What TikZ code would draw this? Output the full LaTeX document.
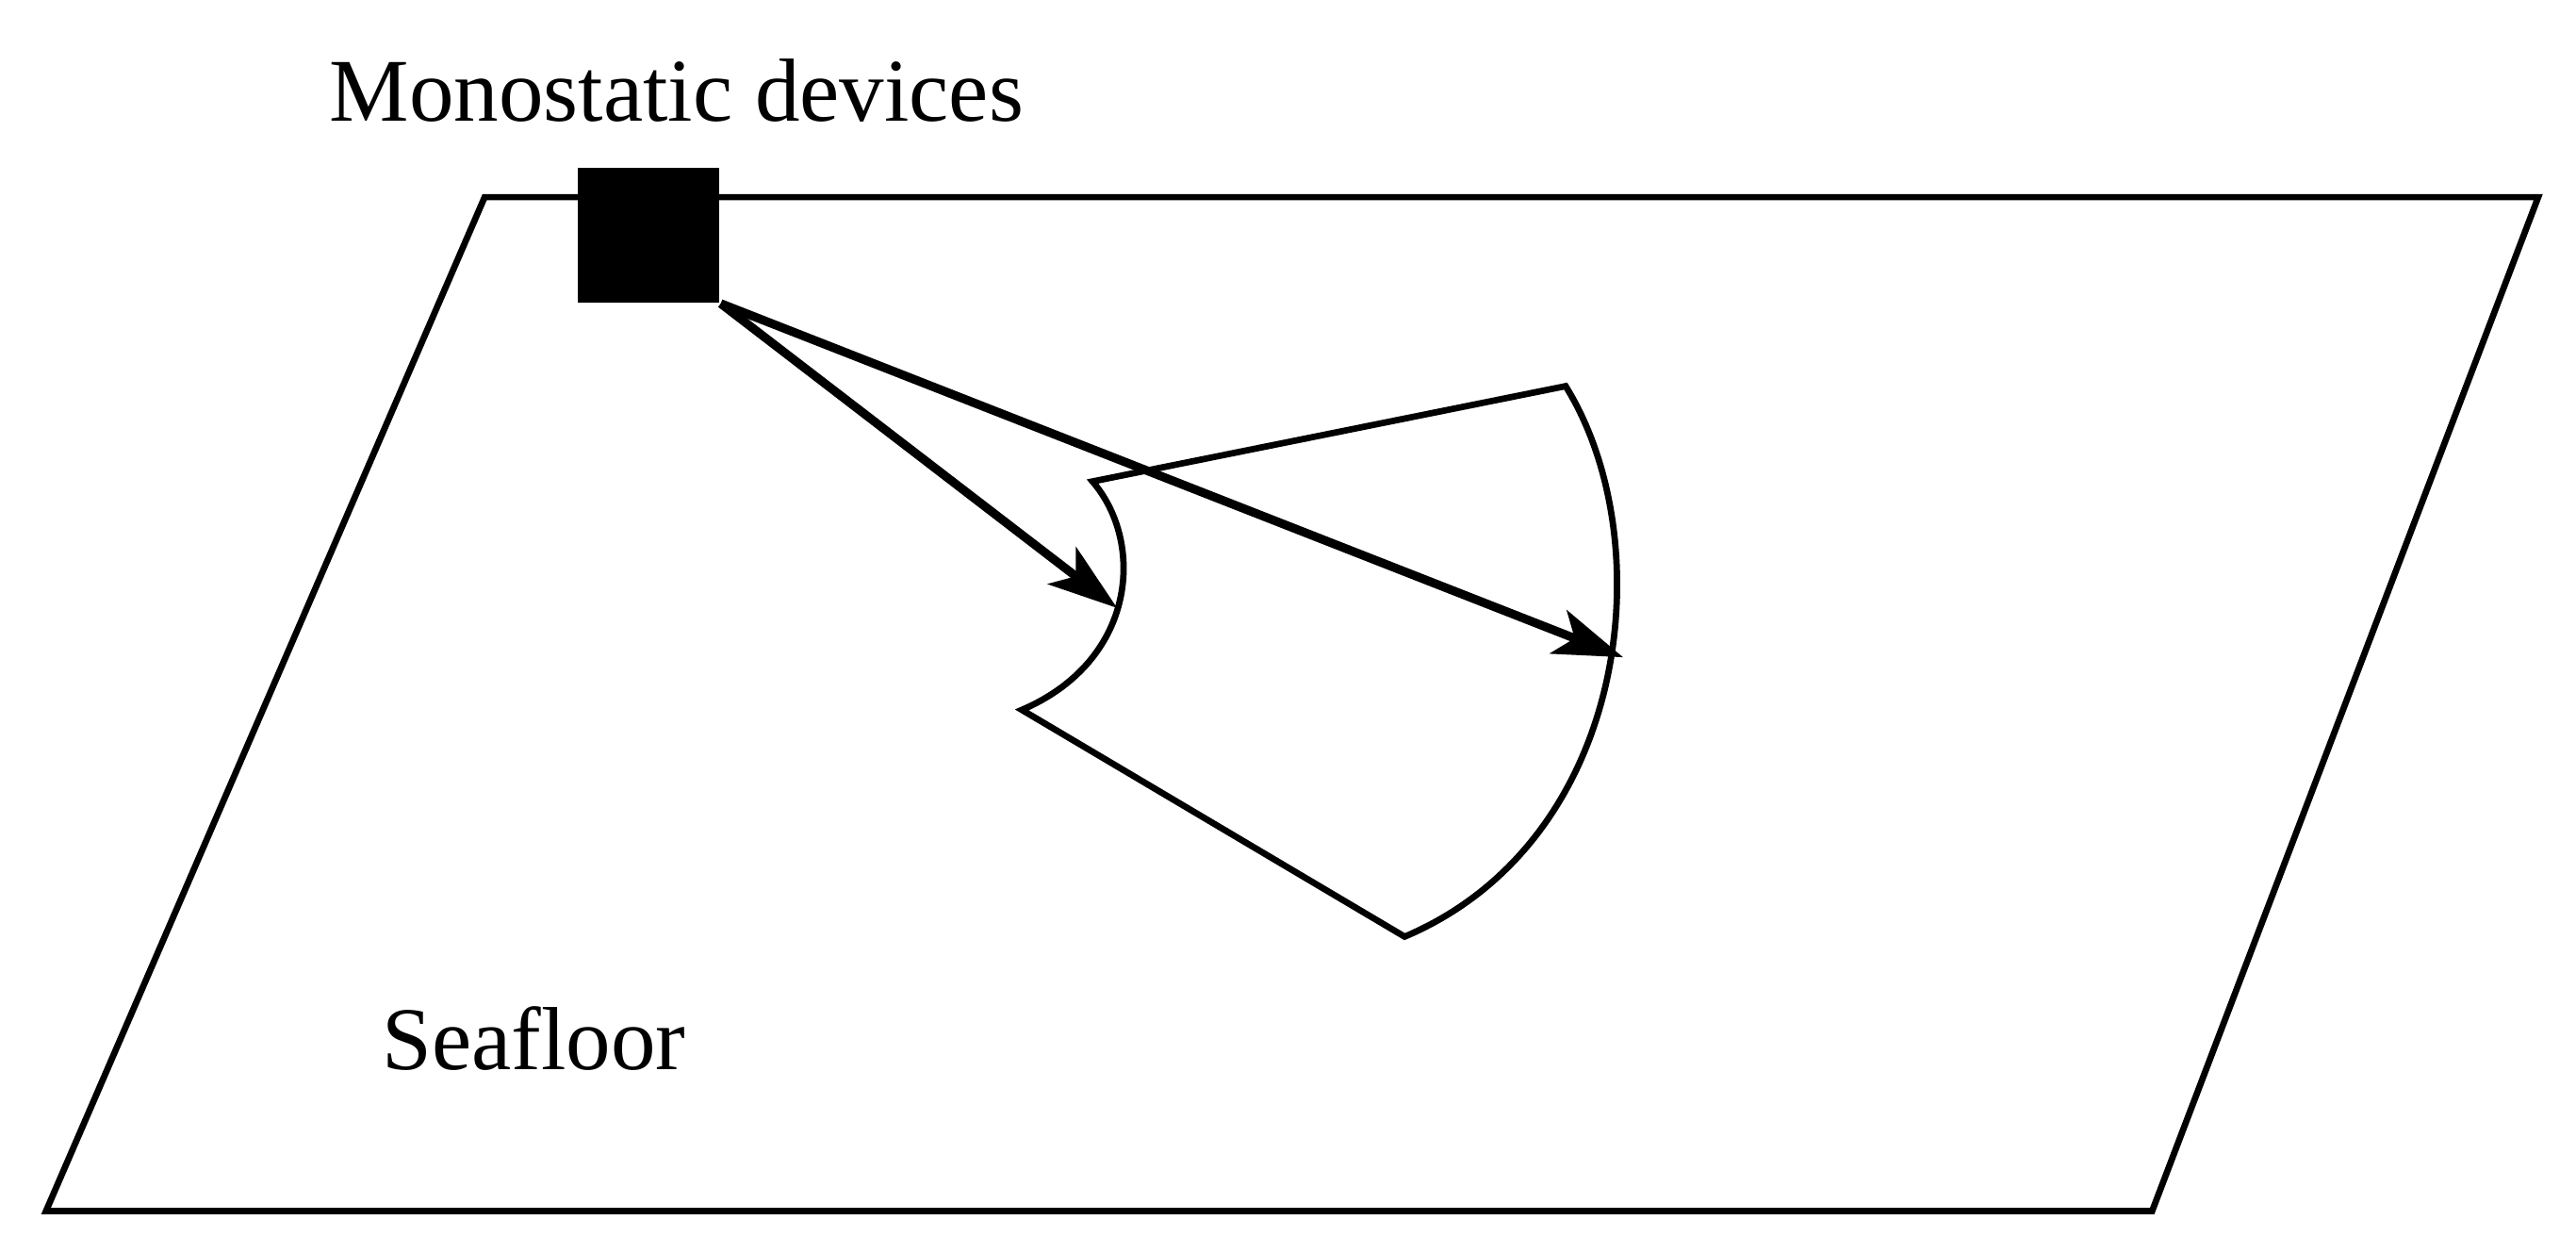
\documentclass[tikz,border=0pt]{standalone}
\usepackage{fontspec}
\setmainfont{Liberation Serif}
\usetikzlibrary{arrows.meta}
\begin{document}
\begin{tikzpicture}[x=0.01cm,y=-0.01cm,
  edge/.style={line width=1.1pt},
  arr/.style={line width=1.5pt,-{Stealth[length=12pt,width=8pt,inset=3pt]}},
  lbl/.style={font=\fontsize{15.5}{18}\selectfont,inner sep=0pt}]
\useasboundingbox (0,0) rectangle (1568,762);
\draw[edge] (295,120) -- (1545,120) -- (1310,737) -- (28,737) -- cycle;
\draw[edge] (665,293) .. controls (697,330) and (692,402) .. (622,432)
  -- (855,570) .. controls (992,512) and (1012,330) .. (953,235) -- cycle;
\node[fill=black,minimum width=0.86cm,minimum height=0.82cm,inner sep=0pt] (dev) at (395,143) {};
\coordinate (t1) at (680,370);
\coordinate (t2) at (988,400);
\draw[arr] (dev.south east) -- (t1);
\draw[arr] (dev.south east) -- (t2);
\node[lbl,anchor=west] (mono) at (200,55) {Monostatic devices};
\node[lbl,anchor=west] (sea) at (232,632) {Seafloor};
\end{tikzpicture}
\end{document}
